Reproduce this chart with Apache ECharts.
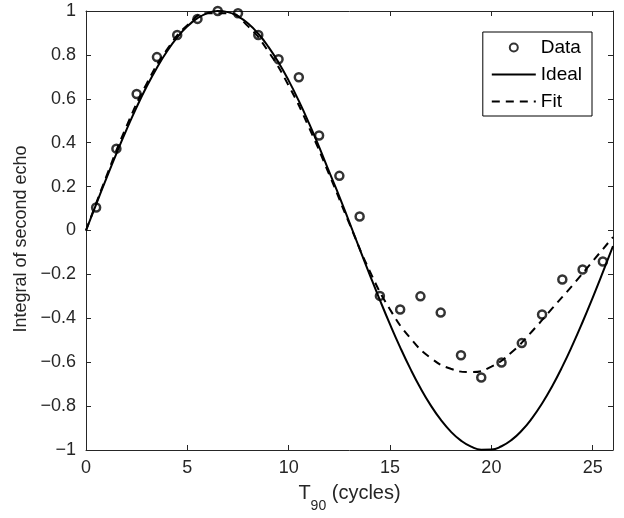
<!DOCTYPE html>
<html><head><meta charset="utf-8">
<script src="https://cdn.jsdelivr.net/npm/echarts@6/dist/echarts.min.js"></script>
<style>html,body{margin:0;padding:0;background:#fff}#c{width:624px;height:518px}</style>
</head><body><div id="c"></div>
<script>
const dataX = [0.5,1.5,2.5,3.5,4.5,5.5,6.5,7.5,8.5,9.5,10.5,11.5,12.5,13.5,14.5,15.5,16.5,17.5,18.5,19.5,20.5,21.5,22.5,23.5,24.5,25.5];
const dataY = [0.105,0.373,0.622,0.79,0.891,0.964,1.0,0.99,0.891,0.78,0.698,0.433,0.249,0.064,-0.298,-0.36,-0.30,-0.374,-0.568,-0.670,-0.601,-0.513,-0.383,-0.223,-0.178,-0.141];
const idealX = [0,0.5,1,1.5,2,2.5,3,3.5,4,4.5,5,5.5,6,6.5,7,7.5,8,8.5,9,9.5,10,10.5,11,11.5,12,12.5,13,13.5,14,14.5,15,15.5,16,16.5,17,17.5,18,18.5,19,19.5,20,20.5,21,21.5,22,22.5,23,23.5,24,24.5,25,25.5,26];
const idealY = [0,0.1192,0.2366,0.3507,0.4598,0.5624,0.6568,0.7419,0.8166,0.8797,0.9301,0.9672,0.9905,0.9998,0.9948,0.9758,0.9428,0.8963,0.8369,0.7654,0.6828,0.5903,0.4891,0.3807,0.2668,0.1547,0.0358,-0.0835,-0.2017,-0.3170,-0.4277,-0.5324,-0.6294,-0.7176,-0.7955,-0.8620,-0.9162,-0.9573,-0.9849,-0.9985,-0.9978,-0.9829,-0.9540,-0.9114,-0.8559,-0.7882,-0.7092,-0.6202,-0.5222,-0.4169,-0.3056,-0.1900,-0.0716];
const fitX = [0,1,2,3,4,5,6,7,8,9,10,11,12,13,14,15,16,17,18,19,20,21,22,23,24,25,26];
const fitY = [0,0.245,0.475,0.67,0.825,0.935,0.99,0.99,0.93,0.815,0.66,0.47,0.255,0.03,-0.185,-0.36,-0.49,-0.58,-0.63,-0.645,-0.62,-0.555,-0.46,-0.355,-0.25,-0.14,-0.03];
const seriesNames = ['Data','Ideal','Fit'];

const font = 'Liberation Sans, Arial, Helvetica, sans-serif';
const axisColor = '#262626';
const pair = (xs, ys) => xs.map((x, i) => [x, ys[i]]);
const fmtY = v => String(Math.round(v * 10) / 10).replace('-', '\u2212');

const chart = echarts.init(document.getElementById('c'), null, {renderer: 'canvas'});
const baseAxis = {
  type: 'value',
  axisLine: {show: true, onZero: false, lineStyle: {color: axisColor, width: 1}},
  axisTick: {show: true, inside: true, length: 5, lineStyle: {color: axisColor, width: 1}},
  splitLine: {show: false}
};
chart.setOption({
  animation: false,
  backgroundColor: '#fff',
  textStyle: {fontFamily: font},
  grid: {left: 86, right: 11, top: 11, bottom: 66, containLabel: false},
  legend: {
    orient: 'vertical', right: 32, top: 32,
    data: [
      {name: seriesNames[0]},
      {name: seriesNames[1], itemStyle: {opacity: 0}},
      {name: seriesNames[2], itemStyle: {opacity: 0}}
    ],
    borderColor: '#000', borderWidth: 1, borderRadius: 0,
    padding: [6, 10, 5, 8], itemGap: 8, itemWidth: 44, itemHeight: 8,
    textStyle: {fontSize: 19, color: '#000', fontFamily: font}
  },
  xAxis: [
    Object.assign({}, baseAxis, {
      min: 0, max: 26, interval: 5, position: 'bottom',
      axisLabel: {show: true, margin: 9, fontSize: 18, color: axisColor, fontFamily: font, showMaxLabel: false},
      name: '{a|T}{b|90}{a| (cycles)}', nameLocation: 'middle', nameGap: 23,
      nameTextStyle: {rich: {
        a: {fontSize: 20, color: axisColor, fontFamily: font, lineHeight: 40, verticalAlign: 'middle'},
        b: {fontSize: 14, color: axisColor, fontFamily: font, lineHeight: 40, verticalAlign: 'bottom'}
      }}
    }),
    Object.assign({}, baseAxis, {
      min: 0, max: 26, interval: 5, position: 'top',
      axisLabel: {show: false}
    })
  ],
  yAxis: [
    Object.assign({}, baseAxis, {
      min: -1, max: 1, interval: 0.2, position: 'left',
      axisLabel: {show: true, margin: 10, fontSize: 18, color: axisColor, fontFamily: font, formatter: fmtY},
      name: 'Integral of second echo', nameLocation: 'middle', nameGap: 52,
      nameTextStyle: {fontSize: 18, color: axisColor, fontFamily: font, padding: [0, 17, 0, 0]}
    }),
    Object.assign({}, baseAxis, {
      min: -1, max: 1, interval: 0.2, position: 'right',
      axisLabel: {show: false}
    })
  ],
  series: [
    {
      name: 'Data', type: 'scatter', xAxisIndex: 0, yAxisIndex: 0,
      data: pair(dataX, dataY), symbol: 'circle', symbolSize: 8, z: 5,
      itemStyle: {color: 'rgba(0,0,0,0)', borderColor: '#000', borderWidth: 2.5}
    },
    {
      name: 'Ideal', type: 'line', xAxisIndex: 0, yAxisIndex: 0,
      data: pair(idealX, idealY), smooth: true, symbol: 'none', showSymbol: false,
      lineStyle: {color: '#000', width: 2}, itemStyle: {color: '#000'}
    },
    {
      name: 'Fit', type: 'line', xAxisIndex: 0, yAxisIndex: 0,
      data: pair(fitX, fitY), smooth: true, symbol: 'none', showSymbol: false,
      lineStyle: {color: '#000', width: 2, type: [8, 6]}, itemStyle: {color: '#000'}
    }
  ]
});
</script></body></html>
